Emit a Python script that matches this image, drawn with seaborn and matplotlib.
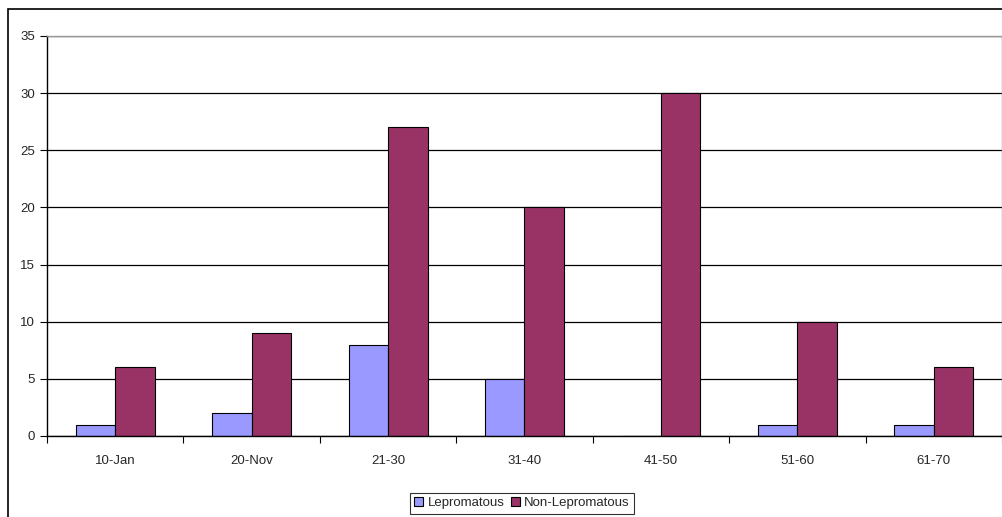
import pandas as pd
import seaborn as sns
import matplotlib.pyplot as plt
from matplotlib.patches import Rectangle
import numpy as np

age_groups = ['10-Jan', '20-Nov', '21-30', '31-40', '41-50', '51-60', '61-70']
lepromatous = [1, 2, 8, 5, 0, 1, 1]
non_lepromatous = [6, 9, 27, 20, 30, 10, 6]

df = pd.DataFrame({
    'group': age_groups * 2,
    'count': lepromatous + non_lepromatous,
    'type': ['Lepromatous'] * len(age_groups) + ['Non-Lepromatous'] * len(age_groups),
})

sns.set_style('white')
plt.rcParams['font.family'] = ['Liberation Sans', 'DejaVu Sans']
plt.rcParams['font.size'] = 9.5

fig = plt.figure(figsize=(10.03, 5.17), dpi=100)
ax = fig.add_axes([47 / 1003, 1 - 436 / 517, 955 / 1003, 400 / 517])

# outer chart border
fig.patches.append(Rectangle((8 / 1003, -0.05), 1.1, 1 - 9 / 517 + 0.05,
                             transform=fig.transFigure, fill=False,
                             edgecolor='black', linewidth=1.2, zorder=0))

sns.barplot(data=df, x='group', y='count', hue='type', ax=ax,
            palette={'Lepromatous': '#9999FF', 'Non-Lepromatous': '#993366'},
            edgecolor='black', linewidth=0.8, width=0.58, saturation=1,
            legend=True)

ax.set_ylim(0, 35)
ax.set_yticks(range(0, 36, 5))
ax.set_xlim(-0.5, 6.5)
ax.yaxis.grid(True, color='black', linewidth=0.9)
ax.set_axisbelow(True)
ax.set_xlabel('')
ax.set_ylabel('')

ax.set_xticks(np.arange(-0.5, 7, 1), minor=False)
ax.set_xticklabels([])
ax.set_xticks(range(7), minor=True)
ax.set_xticklabels(age_groups, minor=True)
ax.tick_params(axis='x', which='major', length=5, direction='out', color='black', bottom=True)
ax.tick_params(axis='x', which='minor', length=0, pad=14, labelsize=9.5)
ax.tick_params(axis='y', length=5, direction='out', color='black', left=True, labelsize=9.5)

for side in ['left', 'bottom']:
    ax.spines[side].set_color('black')
    ax.spines[side].set_linewidth(1)
for side in ['top', 'right']:
    ax.spines[side].set_color('#999999')
    ax.spines[side].set_linewidth(1)

ax.legend(loc='upper center', bbox_to_anchor=(522 / 1003, 31 / 517),
          bbox_transform=fig.transFigure, ncol=2, frameon=True,
          fancybox=False, edgecolor='black', handlelength=0.7, handleheight=0.7,
          handletextpad=0.3, columnspacing=0.5, borderpad=0.35, fontsize=9.5)
ax.get_legend().get_frame().set_linewidth(0.8)

fig.savefig('out.png', dpi=100)
